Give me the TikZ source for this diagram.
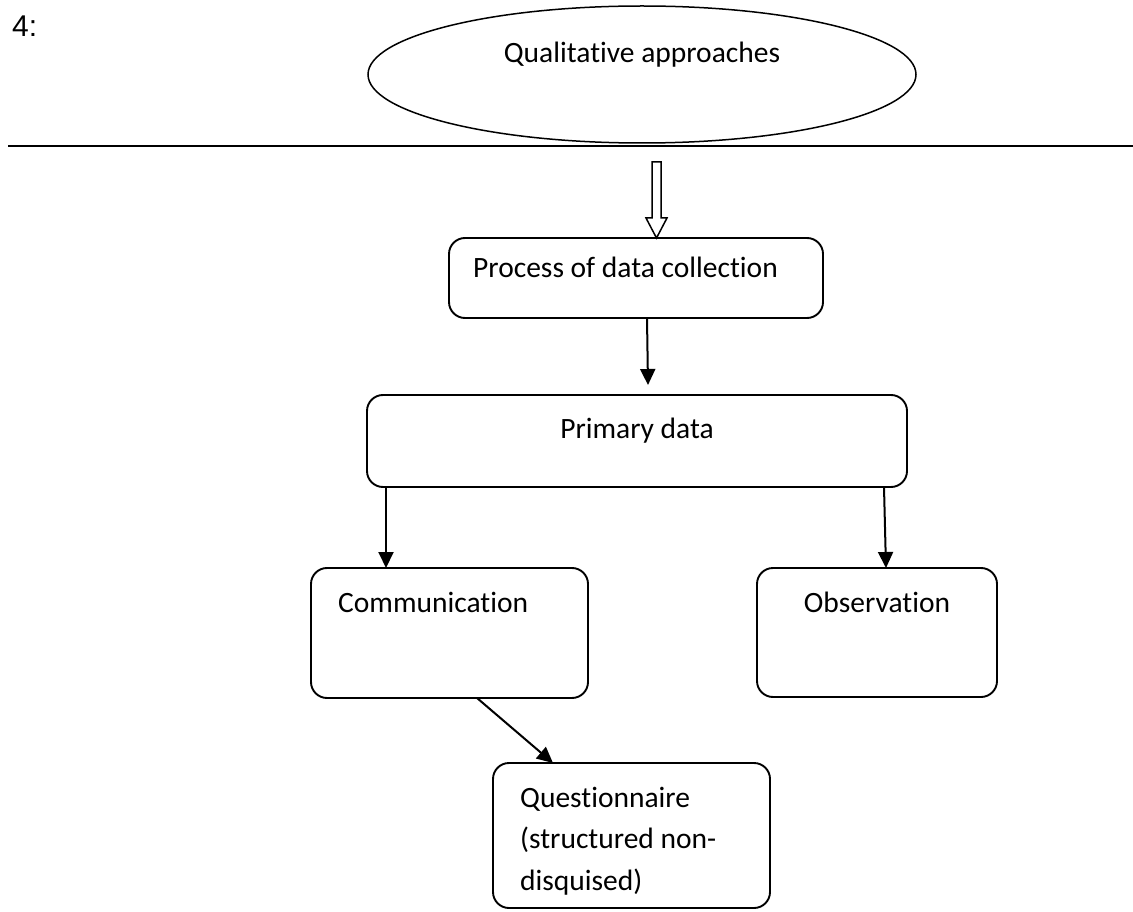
\documentclass[tikz,border=0pt]{standalone}
\usepackage{fontspec}
\setmainfont{Carlito}[Ligatures={NoCommon}]
\newfontfamily\arialfont{Liberation Sans}
\usetikzlibrary{shapes.geometric,arrows.meta,calc}
\begin{document}
\begin{tikzpicture}[x=1pt,y=-1pt,
  box/.style={draw, line width=1.9pt, rounded corners=16pt, inner sep=0pt, outer sep=0pt},
  lbl/.style={font=\fontsize{29.5}{41.5}\selectfont, inner sep=0pt, anchor=base west},
  arr/.style={line width=2pt, -{Triangle[length=16pt,width=15pt]}}]
\useasboundingbox (0,0) rectangle (1133,912);
% heading number
\node[font=\arialfont\fontsize{30}{36}\selectfont, inner sep=0pt, anchor=base west] (num) at (12,37) {4:};
% ellipse
\node[draw, ellipse, line width=1.5pt, minimum width=548pt, minimum height=137pt, inner sep=0pt] (qa) at (642,74.5) {};
\node[lbl, anchor=base] (qat) at (642,63) {Qualitative approaches};
% horizontal rule
\coordinate (hl) at (8,146);
\coordinate (hr) at (1133,146);
\draw[line width=2.4pt] (hl) -- (hr);
% boxes
\node[box, minimum width=374pt, minimum height=80pt] (proc) at (636,278) {};
\node[lbl] (proct) at (473,278) {Process of data collection};
\node[box, minimum width=540pt, minimum height=92pt] (prim) at (637,441) {};
\node[lbl, anchor=base] (primt) at (637,438) {Primary data};
\node[box, minimum width=277pt, minimum height=130pt] (comm) at (449.5,633) {};
\node[lbl] (commt) at (338,612) {Communication};
\node[box, minimum width=240pt, minimum height=129pt] (obs) at (877,632.5) {};
\node[lbl, anchor=base] (obst) at (877,612) {Observation};
\node[box, minimum width=277pt, minimum height=145pt] (quest) at (631.5,835.5) {};
\node[lbl, align=left] (questt) at (520,890) {Questionnaire\\(structured non-\\disquised)};
% hollow arrow
\coordinate (hs) at (656.5,162);
\coordinate (ht) at ([xshift=20.5pt]proc.north);
\draw[line width=1.5pt, fill=white] ($(hs)+(-4.5,0)$) -- ($(hs)+(4.5,0)$) -- ($(ht)+(4.5,-20)$) -- ($(ht)+(10.5,-20)$) -- (ht) -- ($(ht)+(-10.5,-20)$) -- ($(ht)+(-4.5,-20)$) -- cycle;
% connectors
\draw[arr] ([xshift=11pt]proc.south) -- ([xshift=11pt,yshift=10pt]prim.north);
\draw[arr] ([xshift=19pt]prim.south west) -- ([xshift=75pt]comm.north west);
\draw[arr] ([xshift=-23pt]prim.south east) -- ([xshift=129pt]obs.north west);
\draw[arr] ([xshift=27.5pt]comm.south) -- ([xshift=60pt]quest.north west);
\end{tikzpicture}
\end{document}
